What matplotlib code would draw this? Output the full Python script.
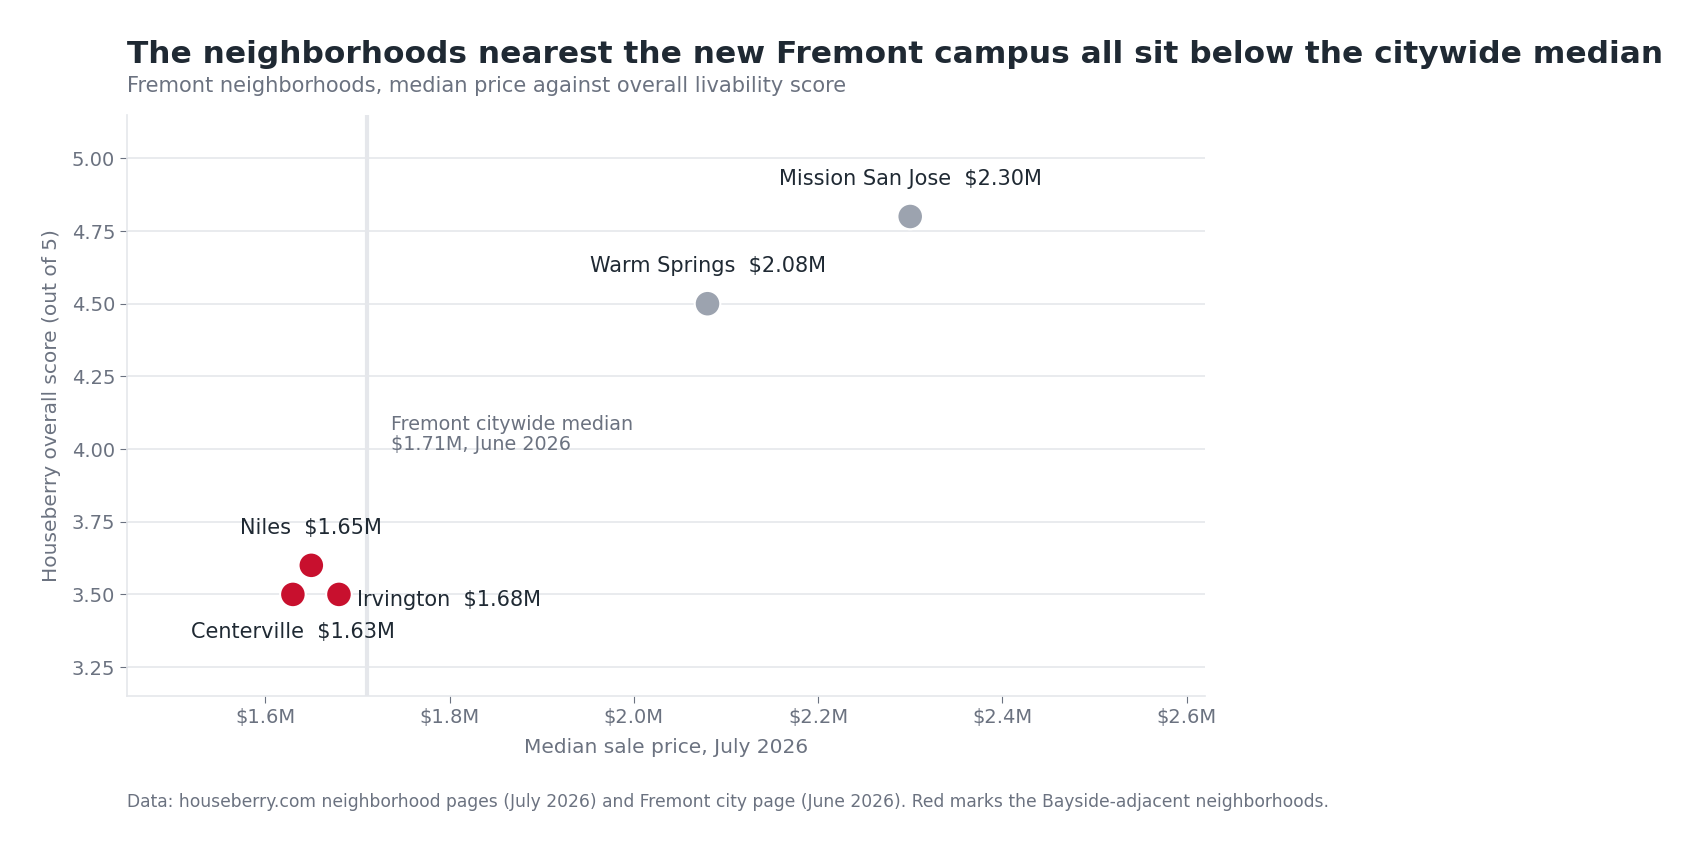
import matplotlib
matplotlib.use("Agg")
import matplotlib.pyplot as plt
from matplotlib.ticker import FuncFormatter

plt.rcParams['font.family'] = ['DejaVu Sans']

names = ["Mission San Jose", "Warm Springs", "Niles", "Centerville", "Irvington"]
prices = [2.30, 2.08, 1.65, 1.63, 1.68]   # $M
scores = [4.8, 4.5, 3.6, 3.5, 3.5]
highlight = [False, False, True, True, True]
city_median = 1.71

RED = "#c8102e"
GREY = "#9ca3af"
DARK = "#1f2933"
MUTED = "#6b7280"
LIGHT = "#e5e7eb"

fig = plt.figure(figsize=(17.03, 8.5), dpi=100)
ax = fig.add_axes([0.0746, 0.181, 0.633, 0.684])

colors = [RED if h else GREY for h in highlight]
ax.scatter(prices, scores, s=340, c=colors, edgecolors="white", linewidths=1.5, zorder=3)

ax.axvline(city_median, color=LIGHT, lw=3, zorder=1)
ax.text(city_median + 0.026, 4.05, "Fremont citywide median\n$1.71M, June 2026",
        color=MUTED, fontsize=13.75, va="center", ha="left", linespacing=1.05)

offsets = {
    "Mission San Jose": ((0, 20), "center", "bottom"),
    "Warm Springs": ((0, 20), "center", "bottom"),
    "Niles": ((0, 20), "center", "bottom"),
    "Centerville": ((0, -20), "center", "top"),
    "Irvington": ((13, -4), "left", "center"),
}
for n, p, s in zip(names, prices, scores):
    off, ha, va = offsets[n]
    ax.annotate(f"{n}  ${p:.2f}M", (p, s), xytext=off, textcoords="offset points",
                ha=ha, va=va, fontsize=15, color=DARK)

ax.set_xlim(1.45, 2.62)
ax.set_ylim(3.15, 5.15)
ax.set_xticks([1.6, 1.8, 2.0, 2.2, 2.4, 2.6])
ax.set_yticks([3.25, 3.5, 3.75, 4.0, 4.25, 4.5, 4.75, 5.0])
ax.xaxis.set_major_formatter(FuncFormatter(lambda v, _: f"${v:.1f}M"))
ax.yaxis.set_major_formatter(FuncFormatter(lambda v, _: f"{v:.2f}"))
ax.grid(axis="y", color=LIGHT, lw=1.2, zorder=0)
ax.set_axisbelow(True)
for sp in ["top", "right"]:
    ax.spines[sp].set_visible(False)
for sp in ["left", "bottom"]:
    ax.spines[sp].set_color(LIGHT)
    ax.spines[sp].set_linewidth(1.2)
ax.tick_params(colors=MUTED, labelsize=14, length=5, color=MUTED)
ax.set_xlabel("Median sale price, July 2026", fontsize=14.5, color=MUTED, labelpad=8)
ax.set_ylabel("Houseberry overall score (out of 5)", fontsize=14.5, color=MUTED, labelpad=8)

fig.text(0.0746, 0.936, "The neighborhoods nearest the new Fremont campus all sit below the citywide median",
         fontsize=22.5, fontweight="bold", color=DARK, ha="left", va="center")
fig.text(0.0746, 0.899, "Fremont neighborhoods, median price against overall livability score",
         fontsize=15.15, color=MUTED, ha="left", va="center")
fig.text(0.0746, 0.057, "Data: houseberry.com neighborhood pages (July 2026) and Fremont city page (June 2026). Red marks the Bayside-adjacent neighborhoods.",
         fontsize=12.3, color=MUTED, ha="left", va="center")

fig.savefig("out.png", dpi=100, facecolor="white")
